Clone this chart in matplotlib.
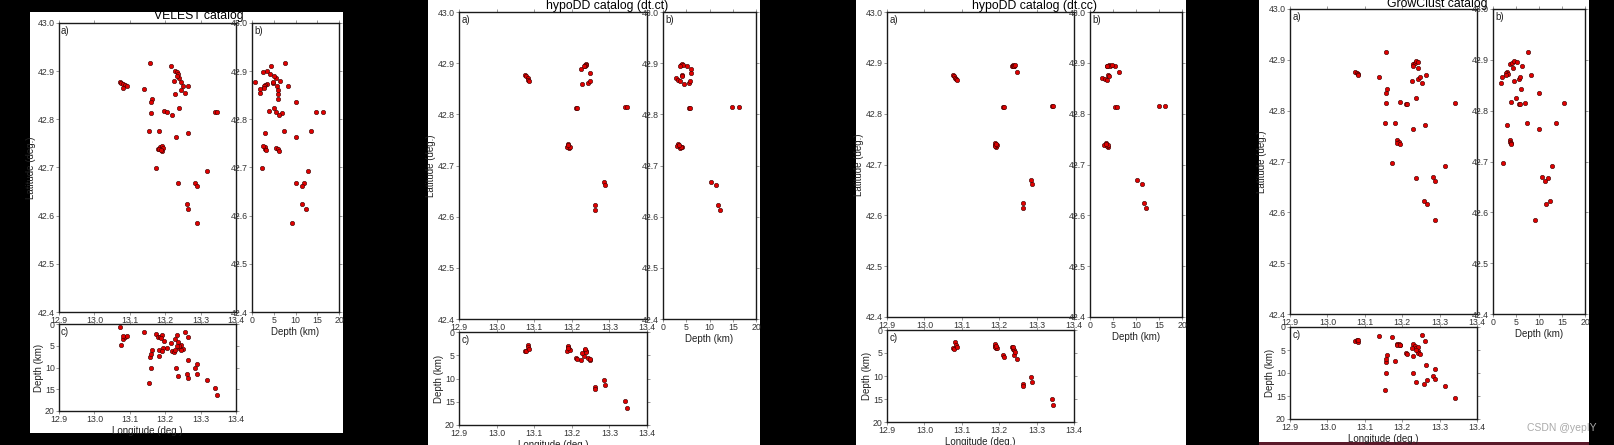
import matplotlib
matplotlib.use('Agg')
import matplotlib.pyplot as plt
from matplotlib.patches import Rectangle

plt.rcParams['font.family'] = ['Liberation Sans', 'DejaVu Sans']

W, H = 1614, 445

# ---- catalog data (lon, lat, depth) ----
velest_lon = [13.073, 13.076, 13.081, 13.086, 13.092, 13.082, 13.158, 13.140, 13.162, 13.159,
              13.159, 13.154, 13.182, 13.174, 13.197, 13.206, 13.220, 13.216, 13.228, 13.232,
              13.236, 13.225, 13.238, 13.246, 13.250, 13.265, 13.246, 13.257, 13.229, 13.239,
              13.231, 13.263, 13.180, 13.186, 13.190, 13.194, 13.183, 13.192, 13.189, 13.237,
              13.285, 13.289, 13.317, 13.262, 13.264, 13.289, 13.341, 13.346, 13.233]
velest_lat = [42.878, 42.876, 42.874, 42.871, 42.869, 42.865, 42.917, 42.864, 42.843, 42.835,
              42.814, 42.775, 42.775, 42.698, 42.818, 42.816, 42.808, 42.910, 42.900, 42.898,
              42.894, 42.880, 42.885, 42.878, 42.869, 42.870, 42.860, 42.854, 42.853, 42.824,
              42.763, 42.772, 42.739, 42.742, 42.745, 42.741, 42.738, 42.734, 42.737, 42.668,
              42.668, 42.661, 42.692, 42.625, 42.614, 42.585, 42.815, 42.815, 42.891]
velest_dep = [0.8, 4.9, 3.4, 3.0, 2.8, 2.7, 7.7, 1.8, 6.0, 10.0,
              7.0, 13.6, 7.4, 2.2, 4.0, 5.5, 6.2, 4.4, 3.4, 2.6,
              4.2, 6.5, 5.5, 4.8, 5.8, 8.2, 5.9, 1.9, 6.0, 5.1,
              10.0, 2.9, 2.9, 3.0, 2.6, 5.5, 5.9, 6.2, 3.2, 12.0,
              10.2, 11.5, 12.8, 11.6, 12.3, 9.1, 14.8, 16.3, 5.0]

ct_lon = [13.076, 13.079, 13.083, 13.084, 13.085, 13.225, 13.235, 13.237, 13.239, 13.236,
          13.233, 13.249, 13.226, 13.243, 13.249, 13.211, 13.213, 13.342, 13.346, 13.189,
          13.190, 13.192, 13.188, 13.194, 13.191, 13.285, 13.289, 13.263, 13.263]
ct_lat = [42.876, 42.874, 42.871, 42.868, 42.866, 42.888, 42.897, 42.898, 42.896, 42.895,
          42.894, 42.881, 42.859, 42.862, 42.866, 42.812, 42.812, 42.815, 42.815, 42.742,
          42.738, 42.734, 42.736, 42.737, 42.740, 42.668, 42.661, 42.623, 42.614]
ct_dep = [4.1, 4.0, 2.7, 3.3, 3.6, 6.1, 3.8, 4.0, 4.3, 3.7,
          5.1, 6.1, 4.5, 5.5, 5.8, 5.5, 5.8, 14.9, 16.4, 3.3,
          3.0, 3.7, 4.1, 3.9, 3.5, 10.3, 11.5, 11.8, 12.3]

cc_lon = [13.076, 13.080, 13.083, 13.085, 13.086, 13.234, 13.237, 13.240, 13.236, 13.239,
          13.242, 13.247, 13.211, 13.213, 13.342, 13.345, 13.189, 13.190, 13.192, 13.188,
          13.194, 13.191, 13.284, 13.289, 13.264, 13.264]
cc_lat = [42.876, 42.874, 42.871, 42.868, 42.866, 42.894, 42.895, 42.894, 42.893, 42.894,
          42.895, 42.881, 42.813, 42.813, 42.815, 42.815, 42.742, 42.738, 42.735, 42.736,
          42.738, 42.740, 42.669, 42.662, 42.624, 42.615]
cc_dep = [4.0, 4.1, 2.7, 3.3, 3.6, 3.8, 4.1, 4.4, 3.6, 5.5,
          4.7, 6.2, 5.5, 5.8, 14.9, 16.4, 3.4, 3.1, 3.9, 3.6,
          4.0, 3.5, 10.3, 11.4, 11.7, 12.2]

gc_lon = [13.075, 13.079, 13.083, 13.082, 13.156, 13.139, 13.160, 13.157, 13.157, 13.153,
          13.181, 13.172, 13.195, 13.210, 13.213, 13.229, 13.234, 13.236, 13.241, 13.241,
          13.243, 13.248, 13.264, 13.226, 13.254, 13.237, 13.228, 13.262, 13.187, 13.191,
          13.187, 13.193, 13.236, 13.282, 13.288, 13.315, 13.259, 13.266, 13.287, 13.342,
          13.228]
gc_lat = [42.876, 42.875, 42.873, 42.870, 42.916, 42.866, 42.843, 42.834, 42.815, 42.775,
          42.775, 42.698, 42.818, 42.813, 42.813, 42.891, 42.894, 42.897, 42.895, 42.883,
          42.862, 42.866, 42.870, 42.859, 42.854, 42.824, 42.763, 42.771, 42.742, 42.739,
          42.736, 42.734, 42.667, 42.670, 42.661, 42.692, 42.622, 42.617, 42.585, 42.815,
          42.888]
gc_dep = [3.0, 2.8, 3.3, 2.9, 7.6, 1.9, 6.1, 9.9, 7.0, 13.6,
          7.4, 2.2, 4.0, 5.6, 5.9, 3.6, 4.2, 4.5, 5.3, 4.3,
          5.6, 5.9, 8.2, 4.6, 1.8, 5.1, 10.0, 3.0, 3.6, 3.7,
          3.9, 4.0, 12.0, 10.7, 11.2, 12.8, 12.4, 11.6, 9.1, 15.5,
          6.2]

titles = ['VELEST catalog', 'hypoDD catalog (dt.ct)', 'hypoDD catalog (dt.cc)', 'GrowClust catalog']
lon_ticks = [12.9, 13.0, 13.1, 13.2, 13.3, 13.4]
lat_ticks = [42.4, 42.5, 42.6, 42.7, 42.8, 42.9, 43.0]
dep_ticks = [0, 5, 10, 15, 20]

catalogs = [(velest_lon, velest_lat, velest_dep), (ct_lon, ct_lat, ct_dep),
            (cc_lon, cc_lat, cc_dep), (gc_lon, gc_lat, gc_dep)]

# pixel boxes: white panel, map, depth-lat, lon-depth, title position
layout = [
    dict(panel=(30, 12, 343, 433), a=(59, 23, 236, 312), b=(252, 23, 339, 312), c=(59, 324, 236, 411), title=(199, 16)),
    dict(panel=(428, 0, 760, 445), a=(459, 12, 647, 319), b=(663, 12, 756, 319), c=(459, 332, 647, 425), title=(607, 6)),
    dict(panel=(856, 0, 1186, 445), a=(887, 12, 1074, 317), b=(1090, 12, 1182, 317), c=(887, 330, 1074, 422), title=(1034, 6)),
    dict(panel=(1259, 0, 1589, 442), a=(1290, 9, 1477, 314), b=(1493, 9, 1585, 314), c=(1290, 327, 1477, 419), title=(1437, 4)),
]

fig = plt.figure(figsize=(W / 100, H / 100), dpi=100, facecolor='black')


def px_axes(box):
    x0, y0, x1, y1 = box
    return fig.add_axes([x0 / W, 1 - y1 / H, (x1 - x0) / W, (y1 - y0) / H], zorder=2)


def style(ax):
    for s in ax.spines.values():
        s.set_color('#1a1a1a')
        s.set_linewidth(1.0)
    ax.tick_params(direction='out', length=2.5, width=0.6, color='#888888',
                   labelsize=6.3, labelcolor='#333333', pad=0.5, top=True, right=True)


tick_fmt = lambda v: '%.1f' % v
lab = dict(fontsize=7, color='#222222')

for (lon, lat, dep), lay, title in zip(catalogs, layout, titles):
    x0, y0, x1, y1 = lay['panel']
    fig.patches.append(Rectangle((x0 / W, 1 - y1 / H), (x1 - x0) / W, (y1 - y0) / H,
                                 transform=fig.transFigure, facecolor='white', edgecolor='none', zorder=-10))
    mk = dict(s=10, c='#e00000', edgecolors='#330000', linewidths=0.4, zorder=3)

    # a) map view
    ax = px_axes(lay['a'])
    ax.scatter(lon, lat, **mk)
    ax.set_xlim(12.9, 13.4)
    ax.set_ylim(42.4, 43.0)
    ax.set_xticks(lon_ticks)
    ax.set_xticklabels([tick_fmt(v) for v in lon_ticks])
    ax.set_yticks(lat_ticks)
    ax.set_yticklabels([tick_fmt(v) for v in lat_ticks])
    ax.set_ylabel('Latitude (deg.)', labelpad=1, **lab)
    style(ax)
    ax.text(0.012, 0.99, 'a)', transform=ax.transAxes, va='top', **lab)

    # b) depth vs latitude
    bx = px_axes(lay['b'])
    bx.scatter(dep, lat, **mk)
    bx.set_xlim(0, 20)
    bx.set_ylim(42.4, 43.0)
    bx.set_xticks(dep_ticks)
    bx.set_yticks(lat_ticks)
    bx.set_yticklabels([tick_fmt(v) for v in lat_ticks])
    bx.set_xlabel('Depth (km)', labelpad=1, **lab)
    style(bx)
    bx.text(0.03, 0.99, 'b)', transform=bx.transAxes, va='top', **lab)

    # c) longitude vs depth
    cx = px_axes(lay['c'])
    cx.scatter(lon, dep, **mk)
    cx.set_xlim(12.9, 13.4)
    cx.set_ylim(20, 0)
    cx.set_xticks(lon_ticks)
    cx.set_xticklabels([tick_fmt(v) for v in lon_ticks])
    cx.set_yticks(dep_ticks)
    cx.set_xlabel('Longitude (deg.)', labelpad=1, **lab)
    cx.set_ylabel('Depth (km)', labelpad=1, **lab)
    style(cx)
    cx.text(0.012, 0.97, 'c)', transform=cx.transAxes, va='top', **lab)

    tx, ty = lay['title']
    fig.text(tx / W, 1 - ty / H, title, fontsize=8.8, ha='center', va='center', zorder=5)

# thin maroon strip under the last panel and the watermark
fig.patches.append(Rectangle((1259 / W, 0), (1589 - 1259) / W, 3 / H, transform=fig.transFigure,
                             facecolor='#5a1a2a', edgecolor='none', zorder=-5))
fig.text(1562 / W, 1 - 428 / H, 'CSDN @yepIY', fontsize=7.5, color='#aaaaaa', ha='center', va='center', zorder=5)

fig.savefig('out.png', dpi=100, facecolor='black')
